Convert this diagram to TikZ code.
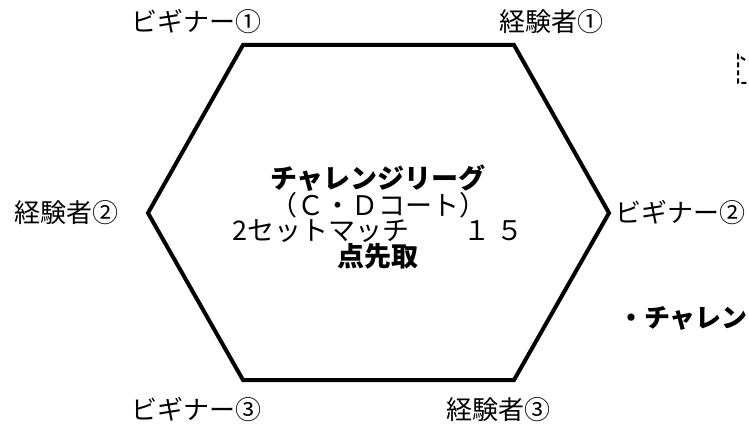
\documentclass[tikz,border=0pt]{standalone}
\usepackage{fontspec}
\setmainfont{Noto Sans CJK JP}
\usetikzlibrary{
    positioning,
    calc
}
\tikzset{
  court/.style = {
      draw,
      line width=4pt,
      line join=miter
  },
  player/.style = {
      inner sep=0pt,
      font=\fontsize{26}{28}\selectfont
  },
  title/.style = {
      inner sep=0pt,
      align=center,
      font=\fontsize{27}{24.5}\selectfont
  },
  memo/.style = {
      draw,
      dash pattern=on 5pt off 3pt,
      line width=2pt
  }
}
\begin{document}
\begin{tikzpicture}[x=1pt,y=-1pt]
    \useasboundingbox (0,0) rectangle (749,430);
    \clip (0,0) rectangle (749,430);
    % Corners of the court
    \coordinate (c1) at (243,45);
    \coordinate (c2) at (514,45);
    \coordinate (c3) at (609,213);
    \coordinate (c4) at (514,380);
    \coordinate (c5) at (243,380);
    \coordinate (c6) at (148,213);
    \path[court] (c1) -- (c2) -- (c3) -- (c4) -- (c5) -- (c6) -- cycle;
    % Title
    \node[title] (league) at (378,217)
        {\textbf{チャレンジリーグ}\\（Ｃ・Ｄコート）\\2セットマッチ　　１ ５\\\textbf{点先取}};
    % Players
    \node[player] (b1) at (196,22) {ビギナー①};
    \node[player] (e1) at (551,22) {経験者①};
    \node[player] (e2) at (66,213) {経験者②};
    \node[player, anchor=west] (b2) at (615,213) {ビギナー②};
    \node[player] (b3) at (196,410) {ビギナー③};
    \node[player] (e3) at (498,410) {経験者③};
    % Side note
    \node[player, anchor=west, font=\fontsize{26}{28}\selectfont\bfseries] (note) at (618,318) {・チャレン};
    \draw[memo] (745,60) -- (738,55) -- (738,83) -- (760,83);
\end{tikzpicture}
\end{document}
